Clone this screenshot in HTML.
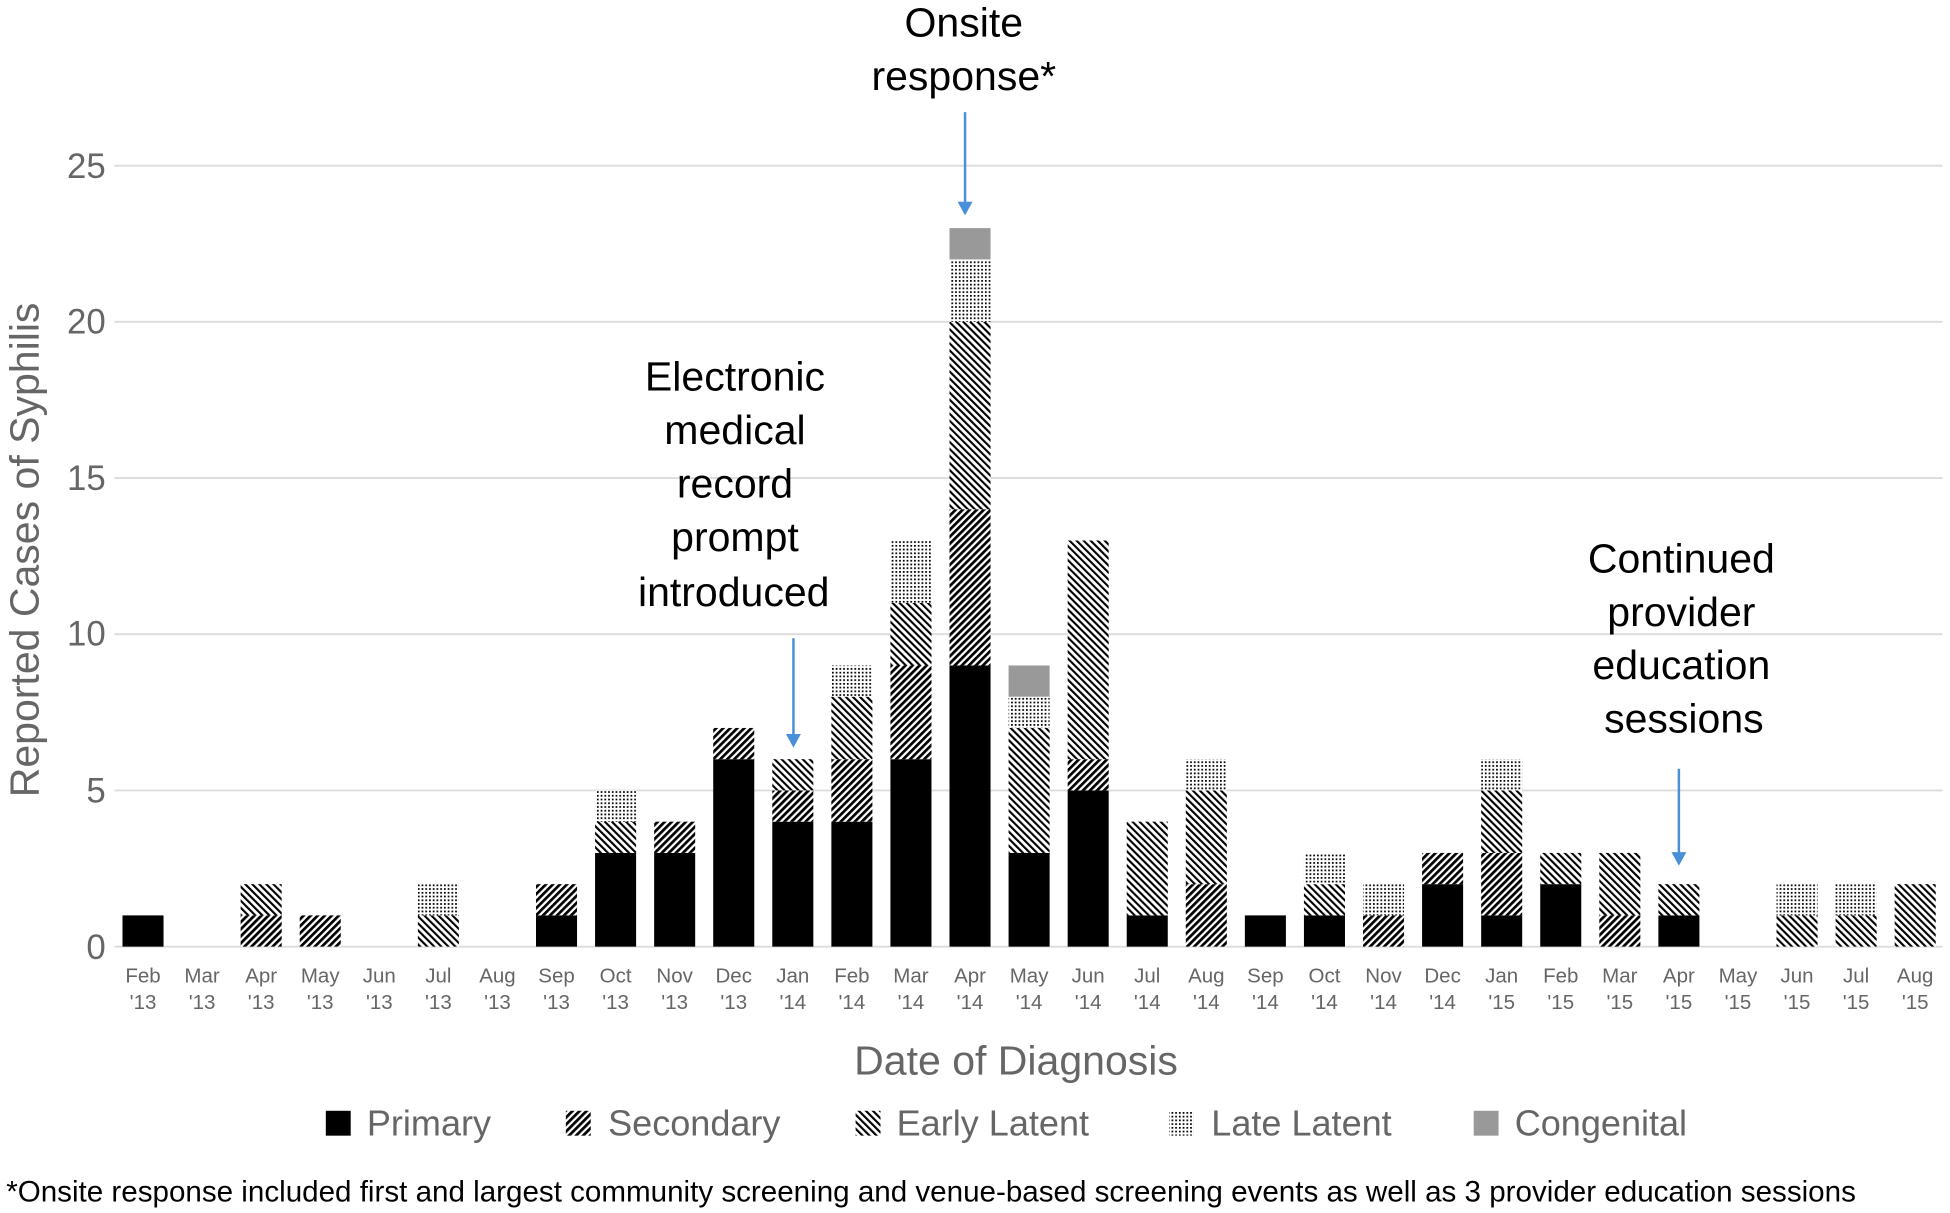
<!DOCTYPE html>
<html><head><meta charset="utf-8"><style>html,body{margin:0;padding:0;background:#fff}svg{display:block}</style></head>
<body>
<svg width="1950" height="1213" viewBox="0 0 1568 975" xmlns="http://www.w3.org/2000/svg" font-family="Liberation Sans, sans-serif">
<defs>
<pattern id="sec" width="4" height="4" patternUnits="userSpaceOnUse" patternTransform="rotate(45)"><rect width="4" height="4" fill="#fff"/><rect width="2.2" height="4" fill="#000"/></pattern>
<pattern id="el" width="4" height="4" patternUnits="userSpaceOnUse" patternTransform="rotate(-45)"><rect width="4" height="4" fill="#fff"/><rect width="1.7" height="4" fill="#000"/></pattern>
<pattern id="ll" width="3" height="3" patternUnits="userSpaceOnUse"><rect width="3" height="3" fill="#fff"/><rect width="1.4" height="1.4" fill="#000"/></pattern>
</defs>
<g stroke="#dcdcdc" stroke-width="1.5">
<line x1="92" x2="1562" y1="133" y2="133"/><line x1="92" x2="1562" y1="258.6" y2="258.6"/><line x1="92" x2="1562" y1="384.2" y2="384.2"/><line x1="92" x2="1562" y1="509.8" y2="509.8"/><line x1="92" x2="1562" y1="635.4" y2="635.4"/><line x1="92" x2="1562" y1="761" y2="761"/>
</g>
<g fill="#666" font-size="28" text-anchor="end">
<text x="85" y="143">25</text><text x="85" y="268">20</text><text x="85" y="394">15</text><text x="85" y="519">10</text><text x="85" y="645">5</text><text x="85" y="771">0</text>
</g>
<text transform="translate(31,442) rotate(-90)" fill="#666" font-size="33" text-anchor="middle">Reported Cases of Syphilis</text>
<g>
<rect x="98.5" y="735.88" width="33" height="25.12" fill="#000"/>
<rect x="193.5" y="735.88" width="33" height="25.12" fill="url(#sec)"/><rect x="193.5" y="710.76" width="33" height="25.12" fill="url(#el)"/>
<rect x="241" y="735.88" width="33" height="25.12" fill="url(#sec)"/>
<rect x="336" y="735.88" width="33" height="25.12" fill="url(#el)"/><rect x="336" y="710.76" width="33" height="25.12" fill="url(#ll)"/>
<rect x="431" y="735.88" width="33" height="25.12" fill="#000"/><rect x="431" y="710.76" width="33" height="25.12" fill="url(#sec)"/>
<rect x="478.5" y="685.64" width="33" height="75.36" fill="#000"/><rect x="478.5" y="660.52" width="33" height="25.12" fill="url(#el)"/><rect x="478.5" y="635.4" width="33" height="25.12" fill="url(#ll)"/>
<rect x="526" y="685.64" width="33" height="75.36" fill="#000"/><rect x="526" y="660.52" width="33" height="25.12" fill="url(#sec)"/>
<rect x="573.5" y="610.28" width="33" height="150.72" fill="#000"/><rect x="573.5" y="585.16" width="33" height="25.12" fill="url(#sec)"/>
<rect x="621" y="660.52" width="33" height="100.48" fill="#000"/><rect x="621" y="635.4" width="33" height="25.12" fill="url(#sec)"/><rect x="621" y="610.28" width="33" height="25.12" fill="url(#el)"/>
<rect x="668.5" y="660.52" width="33" height="100.48" fill="#000"/><rect x="668.5" y="610.28" width="33" height="50.24" fill="url(#sec)"/><rect x="668.5" y="560.04" width="33" height="50.24" fill="url(#el)"/><rect x="668.5" y="534.92" width="33" height="25.12" fill="url(#ll)"/>
<rect x="716" y="610.28" width="33" height="150.72" fill="#000"/><rect x="716" y="534.92" width="33" height="75.36" fill="url(#sec)"/><rect x="716" y="484.68" width="33" height="50.24" fill="url(#el)"/><rect x="716" y="434.44" width="33" height="50.24" fill="url(#ll)"/>
<rect x="763.5" y="534.92" width="33" height="226.08" fill="#000"/><rect x="763.5" y="409.32" width="33" height="125.6" fill="url(#sec)"/><rect x="763.5" y="258.6" width="33" height="150.72" fill="url(#el)"/><rect x="763.5" y="208.36" width="33" height="50.24" fill="url(#ll)"/><rect x="763.5" y="183.24" width="33" height="25.12" fill="#999"/>
<rect x="811" y="685.64" width="33" height="75.36" fill="#000"/><rect x="811" y="585.16" width="33" height="100.48" fill="url(#el)"/><rect x="811" y="560.04" width="33" height="25.12" fill="url(#ll)"/><rect x="811" y="534.92" width="33" height="25.12" fill="#999"/>
<rect x="858.5" y="635.4" width="33" height="125.6" fill="#000"/><rect x="858.5" y="610.28" width="33" height="25.12" fill="url(#sec)"/><rect x="858.5" y="434.44" width="33" height="175.84" fill="url(#el)"/>
<rect x="906" y="735.88" width="33" height="25.12" fill="#000"/><rect x="906" y="660.52" width="33" height="75.36" fill="url(#el)"/>
<rect x="953.5" y="710.76" width="33" height="50.24" fill="url(#sec)"/><rect x="953.5" y="635.4" width="33" height="75.36" fill="url(#el)"/><rect x="953.5" y="610.28" width="33" height="25.12" fill="url(#ll)"/>
<rect x="1001" y="735.88" width="33" height="25.12" fill="#000"/>
<rect x="1048.5" y="735.88" width="33" height="25.12" fill="#000"/><rect x="1048.5" y="710.76" width="33" height="25.12" fill="url(#el)"/><rect x="1048.5" y="685.64" width="33" height="25.12" fill="url(#ll)"/>
<rect x="1096" y="735.88" width="33" height="25.12" fill="url(#sec)"/><rect x="1096" y="710.76" width="33" height="25.12" fill="url(#ll)"/>
<rect x="1143.5" y="710.76" width="33" height="50.24" fill="#000"/><rect x="1143.5" y="685.64" width="33" height="25.12" fill="url(#sec)"/>
<rect x="1191" y="735.88" width="33" height="25.12" fill="#000"/><rect x="1191" y="685.64" width="33" height="50.24" fill="url(#sec)"/><rect x="1191" y="635.4" width="33" height="50.24" fill="url(#el)"/><rect x="1191" y="610.28" width="33" height="25.12" fill="url(#ll)"/>
<rect x="1238.5" y="710.76" width="33" height="50.24" fill="#000"/><rect x="1238.5" y="685.64" width="33" height="25.12" fill="url(#el)"/>
<rect x="1286" y="735.88" width="33" height="25.12" fill="url(#sec)"/><rect x="1286" y="685.64" width="33" height="50.24" fill="url(#el)"/>
<rect x="1333.5" y="735.88" width="33" height="25.12" fill="#000"/><rect x="1333.5" y="710.76" width="33" height="25.12" fill="url(#el)"/>
<rect x="1428.5" y="735.88" width="33" height="25.12" fill="url(#el)"/><rect x="1428.5" y="710.76" width="33" height="25.12" fill="url(#ll)"/>
<rect x="1476" y="735.88" width="33" height="25.12" fill="url(#el)"/><rect x="1476" y="710.76" width="33" height="25.12" fill="url(#ll)"/>
<rect x="1523.5" y="710.76" width="33" height="50.24" fill="url(#el)"/>
</g>
<g fill="#666" font-size="16.5" text-anchor="middle">
<text x="115" y="790">Feb</text><text x="115" y="811">'13</text>
<text x="162.5" y="790">Mar</text><text x="162.5" y="811">'13</text>
<text x="210" y="790">Apr</text><text x="210" y="811">'13</text>
<text x="257.5" y="790">May</text><text x="257.5" y="811">'13</text>
<text x="305" y="790">Jun</text><text x="305" y="811">'13</text>
<text x="352.5" y="790">Jul</text><text x="352.5" y="811">'13</text>
<text x="400" y="790">Aug</text><text x="400" y="811">'13</text>
<text x="447.5" y="790">Sep</text><text x="447.5" y="811">'13</text>
<text x="495" y="790">Oct</text><text x="495" y="811">'13</text>
<text x="542.5" y="790">Nov</text><text x="542.5" y="811">'13</text>
<text x="590" y="790">Dec</text><text x="590" y="811">'13</text>
<text x="637.5" y="790">Jan</text><text x="637.5" y="811">'14</text>
<text x="685" y="790">Feb</text><text x="685" y="811">'14</text>
<text x="732.5" y="790">Mar</text><text x="732.5" y="811">'14</text>
<text x="780" y="790">Apr</text><text x="780" y="811">'14</text>
<text x="827.5" y="790">May</text><text x="827.5" y="811">'14</text>
<text x="875" y="790">Jun</text><text x="875" y="811">'14</text>
<text x="922.5" y="790">Jul</text><text x="922.5" y="811">'14</text>
<text x="970" y="790">Aug</text><text x="970" y="811">'14</text>
<text x="1017.5" y="790">Sep</text><text x="1017.5" y="811">'14</text>
<text x="1065" y="790">Oct</text><text x="1065" y="811">'14</text>
<text x="1112.5" y="790">Nov</text><text x="1112.5" y="811">'14</text>
<text x="1160" y="790">Dec</text><text x="1160" y="811">'14</text>
<text x="1207.5" y="790">Jan</text><text x="1207.5" y="811">'15</text>
<text x="1255" y="790">Feb</text><text x="1255" y="811">'15</text>
<text x="1302.5" y="790">Mar</text><text x="1302.5" y="811">'15</text>
<text x="1350" y="790">Apr</text><text x="1350" y="811">'15</text>
<text x="1397.5" y="790">May</text><text x="1397.5" y="811">'15</text>
<text x="1445" y="790">Jun</text><text x="1445" y="811">'15</text>
<text x="1492.5" y="790">Jul</text><text x="1492.5" y="811">'15</text>
<text x="1540" y="790">Aug</text><text x="1540" y="811">'15</text>
</g>
<text x="817" y="864" fill="#666" font-size="33" text-anchor="middle">Date of Diagnosis</text>
<g font-size="29" fill="#666">
<rect x="262" y="893" width="20" height="20" fill="#000"/><text x="295" y="913">Primary</text>
<rect x="455" y="893" width="20" height="20" fill="url(#sec)"/><text x="489" y="913">Secondary</text>
<rect x="688" y="893" width="20" height="20" fill="url(#el)"/><text x="721" y="913">Early Latent</text>
<rect x="940" y="893" width="20" height="20" fill="url(#ll)"/><text x="974" y="913">Late Latent</text>
<rect x="1185" y="893" width="20" height="20" fill="#999"/><text x="1218" y="913">Congenital</text>
</g>
<text x="5" y="966" font-size="23.8" fill="#000">*Onsite response included first and largest community screening and venue-based screening events as well as 3 provider education sessions</text>
<g font-size="33" fill="#000" text-anchor="middle">
<text x="775" y="29">Onsite</text><text x="775" y="72">response*</text>
<text x="591" y="314">Electronic</text><text x="591" y="357">medical</text><text x="591" y="400">record</text><text x="591" y="443">prompt</text><text x="590" y="487">introduced</text>
<text x="1352" y="460">Continued</text><text x="1352" y="503">provider</text><text x="1352" y="546">education</text><text x="1354" y="589">sessions</text>
</g>
<g stroke="#4a90d9" stroke-width="2" fill="#4a90d9">
<line x1="776" y1="90" x2="776" y2="164"/><polygon points="770,162 782,162 776,173" stroke="none"/>
<line x1="638" y1="513" x2="638" y2="592"/><polygon points="632,590 644,590 638,601" stroke="none"/>
<line x1="1350" y1="618" x2="1350" y2="687"/><polygon points="1344,685 1356,685 1350,696" stroke="none"/>
</g>
</svg>
</body></html>
